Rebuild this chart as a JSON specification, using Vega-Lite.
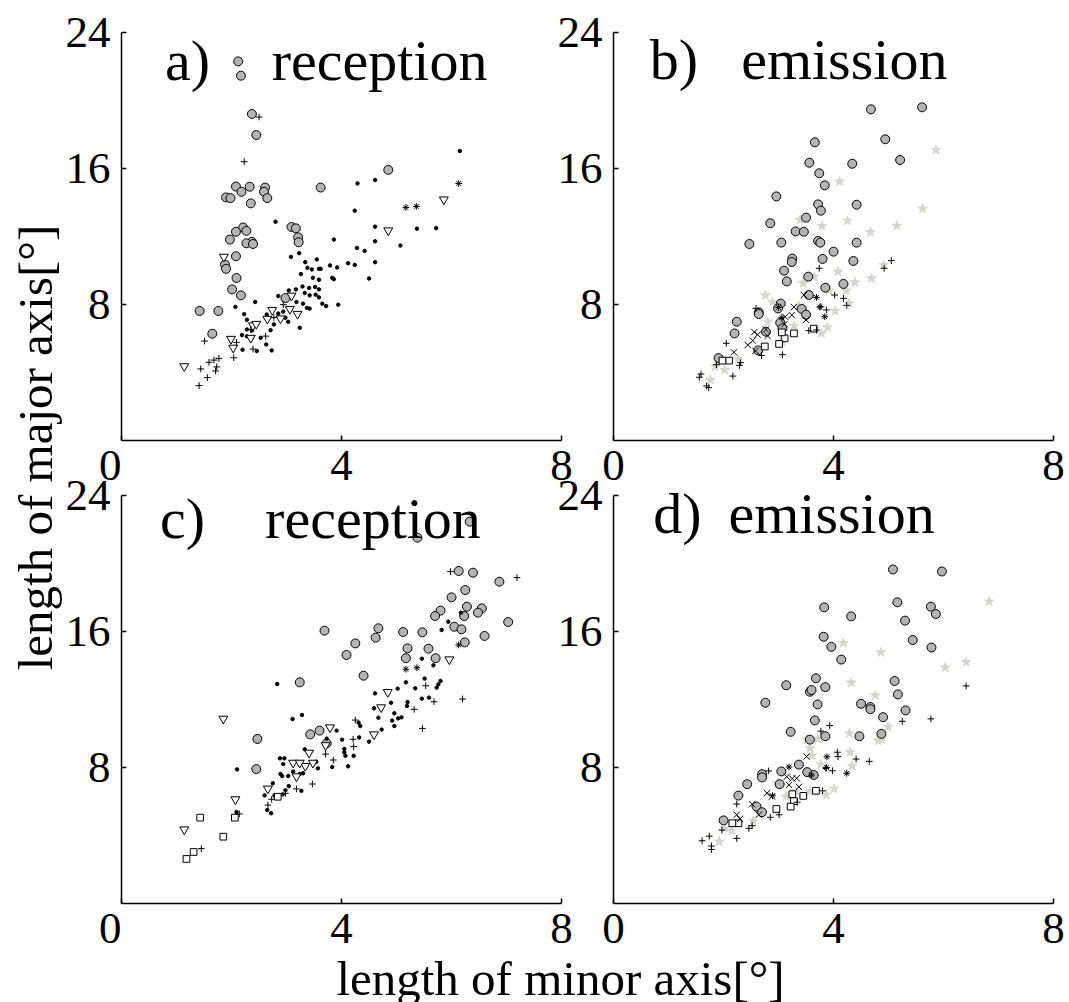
{
"$schema": "https://vega.github.io/schema/vega-lite/v6.json",
"background": "white",
"padding": {"left": 12, "top": 10, "right": 0, "bottom": 0},
"config": {
 "view": {"stroke": null},
 "font": "Liberation Serif",
 "axis": {"grid": false, "domainColor": "black", "domainWidth": 1.5, "tickColor": "black", "tickWidth": 1.5, "tickSize": -5, "labelFont": "Liberation Serif", "labelFontSize": 45, "labelColor": "black", "labelFlush": false, "labelOverlap": false, "titleFont": "Liberation Serif", "titleFontSize": 49, "titleFontWeight": "normal", "titleColor": "black"}
},
"datasets": {"pts": [
{"p":"a","t":"c","x":2.13,"y":22.27},{"p":"a","t":"c","x":2.18,"y":21.43},{"p":"a","t":"c","x":2.38,"y":19.18},{"p":"a","t":"c","x":2.46,"y":17.94},{"p":"a","t":"c","x":4.86,"y":15.89},{"p":"a","t":"c","x":3.63,"y":14.85},{"p":"a","t":"c","x":2.09,"y":14.91},{"p":"a","t":"c","x":2.34,"y":14.9},{"p":"a","t":"c","x":2.62,"y":14.85},{"p":"a","t":"c","x":2.19,"y":14.6},{"p":"a","t":"c","x":2.6,"y":14.6},{"p":"a","t":"c","x":1.91,"y":14.27},{"p":"a","t":"c","x":1.99,"y":14.23},{"p":"a","t":"c","x":2.66,"y":14.23},{"p":"a","t":"c","x":2.36,"y":13.92},{"p":"a","t":"c","x":3.1,"y":12.53},{"p":"a","t":"c","x":3.18,"y":12.45},{"p":"a","t":"c","x":2.22,"y":12.5},{"p":"a","t":"c","x":2.09,"y":12.25},{"p":"a","t":"c","x":2.28,"y":12.3},{"p":"a","t":"c","x":3.22,"y":11.92},{"p":"a","t":"c","x":1.98,"y":11.79},{"p":"a","t":"c","x":2.38,"y":11.66},{"p":"a","t":"c","x":2.28,"y":11.57},{"p":"a","t":"c","x":2.4,"y":11.53},{"p":"a","t":"c","x":3.23,"y":11.63},{"p":"a","t":"c","x":2.09,"y":10.81},{"p":"a","t":"c","x":1.89,"y":10.32},{"p":"a","t":"c","x":1.91,"y":10.07},{"p":"a","t":"c","x":2.1,"y":9.53},{"p":"a","t":"c","x":2.02,"y":8.86},{"p":"a","t":"c","x":2.18,"y":8.51},{"p":"a","t":"c","x":1.43,"y":7.59},{"p":"a","t":"c","x":1.77,"y":7.59},{"p":"a","t":"c","x":1.66,"y":6.25},{"p":"a","t":"c","x":2.99,"y":8.35},
{"p":"a","t":"d","x":6.16,"y":17.0},{"p":"a","t":"d","x":4.62,"y":15.3},{"p":"a","t":"d","x":4.3,"y":15.09},{"p":"a","t":"d","x":4.25,"y":13.49},{"p":"a","t":"d","x":2.81,"y":12.84},{"p":"a","t":"d","x":4.62,"y":12.55},{"p":"a","t":"d","x":5.38,"y":12.43},{"p":"a","t":"d","x":5.73,"y":12.46},{"p":"a","t":"d","x":3.87,"y":11.79},{"p":"a","t":"d","x":4.62,"y":11.69},{"p":"a","t":"d","x":5.08,"y":11.44},{"p":"a","t":"d","x":4.29,"y":11.3},{"p":"a","t":"d","x":4.43,"y":11.12},{"p":"a","t":"d","x":3.09,"y":10.77},{"p":"a","t":"d","x":3.24,"y":10.99},{"p":"a","t":"d","x":4.62,"y":10.46},{"p":"a","t":"d","x":4.13,"y":10.4},{"p":"a","t":"d","x":4.25,"y":10.3},{"p":"a","t":"d","x":3.8,"y":10.27},{"p":"a","t":"d","x":3.93,"y":10.15},{"p":"a","t":"d","x":3.35,"y":10.46},{"p":"a","t":"d","x":3.56,"y":10.62},{"p":"a","t":"d","x":3.39,"y":10.13},{"p":"a","t":"d","x":3.47,"y":10.03},{"p":"a","t":"d","x":3.6,"y":10.07},{"p":"a","t":"d","x":3.63,"y":10.07},{"p":"a","t":"d","x":3.27,"y":9.76},{"p":"a","t":"d","x":3.49,"y":9.54},{"p":"a","t":"d","x":3.6,"y":9.43},{"p":"a","t":"d","x":3.84,"y":9.54},{"p":"a","t":"d","x":3.87,"y":9.46},{"p":"a","t":"d","x":4.51,"y":9.5},{"p":"a","t":"d","x":3.05,"y":8.8},{"p":"a","t":"d","x":3.18,"y":8.86},{"p":"a","t":"d","x":3.3,"y":9.03},{"p":"a","t":"d","x":3.42,"y":8.94},{"p":"a","t":"d","x":3.53,"y":9.0},{"p":"a","t":"d","x":3.6,"y":8.86},{"p":"a","t":"d","x":3.34,"y":8.65},{"p":"a","t":"d","x":3.43,"y":8.51},{"p":"a","t":"d","x":3.54,"y":8.55},{"p":"a","t":"d","x":3.6,"y":8.39},{"p":"a","t":"d","x":2.86,"y":8.47},{"p":"a","t":"d","x":2.44,"y":8.12},{"p":"a","t":"d","x":3.19,"y":8.12},{"p":"a","t":"d","x":3.31,"y":8.02},{"p":"a","t":"d","x":3.38,"y":7.77},{"p":"a","t":"d","x":3.43,"y":7.73},{"p":"a","t":"d","x":3.66,"y":8.02},{"p":"a","t":"d","x":3.73,"y":7.88},{"p":"a","t":"d","x":3.95,"y":7.96},{"p":"a","t":"d","x":2.08,"y":7.83},{"p":"a","t":"d","x":2.24,"y":7.4},{"p":"a","t":"d","x":2.29,"y":7.07},{"p":"a","t":"d","x":2.65,"y":7.38},{"p":"a","t":"d","x":2.86,"y":7.44},{"p":"a","t":"d","x":2.95,"y":7.55},{"p":"a","t":"d","x":2.99,"y":7.19},{"p":"a","t":"d","x":3.04,"y":6.95},{"p":"a","t":"d","x":3.25,"y":6.6},{"p":"a","t":"d","x":2.78,"y":6.8},{"p":"a","t":"d","x":2.72,"y":6.46},{"p":"a","t":"d","x":2.29,"y":6.5},{"p":"a","t":"d","x":2.38,"y":6.44},{"p":"a","t":"d","x":2.2,"y":6.17},{"p":"a","t":"d","x":2.29,"y":6.1},{"p":"a","t":"d","x":2.54,"y":6.01},{"p":"a","t":"d","x":2.47,"y":5.23},{"p":"a","t":"d","x":2.74,"y":5.27},{"p":"a","t":"d","x":2.21,"y":5.31},{"p":"a","t":"d","x":2.64,"y":5.62},
{"p":"a","t":"v","x":1.15,"y":4.26},{"p":"a","t":"v","x":1.87,"y":10.7},{"p":"a","t":"v","x":2.0,"y":5.87},{"p":"a","t":"v","x":2.04,"y":5.35},{"p":"a","t":"v","x":2.36,"y":5.93},{"p":"a","t":"v","x":2.4,"y":6.66},{"p":"a","t":"v","x":2.46,"y":6.75},{"p":"a","t":"v","x":2.66,"y":7.05},{"p":"a","t":"v","x":2.75,"y":7.57},{"p":"a","t":"v","x":2.9,"y":7.07},{"p":"a","t":"v","x":3.07,"y":7.63},{"p":"a","t":"v","x":3.21,"y":7.34},{"p":"a","t":"v","x":3.1,"y":8.41},{"p":"a","t":"v","x":4.86,"y":12.25},{"p":"a","t":"v","x":5.87,"y":14.07},
{"p":"a","t":"p","x":2.51,"y":19.0},{"p":"a","t":"p","x":2.24,"y":16.37},{"p":"a","t":"p","x":1.52,"y":5.82},{"p":"a","t":"p","x":1.45,"y":4.18},{"p":"a","t":"p","x":1.57,"y":3.67},{"p":"a","t":"p","x":1.42,"y":3.2},{"p":"a","t":"p","x":1.6,"y":4.57},{"p":"a","t":"p","x":1.69,"y":4.7},{"p":"a","t":"p","x":1.78,"y":4.8},{"p":"a","t":"p","x":1.72,"y":4.06},{"p":"a","t":"p","x":1.74,"y":4.3},{"p":"a","t":"p","x":2.05,"y":4.84},{"p":"a","t":"p","x":2.1,"y":5.74},{"p":"a","t":"p","x":2.4,"y":5.35},{"p":"a","t":"p","x":2.63,"y":6.11},{"p":"a","t":"p","x":2.78,"y":7.2},{"p":"a","t":"p","x":2.95,"y":7.96},{"p":"a","t":"p","x":2.36,"y":6.5},
{"p":"a","t":"a","x":5.18,"y":13.68},{"p":"a","t":"a","x":5.37,"y":13.74},{"p":"a","t":"a","x":6.14,"y":15.09},
{"p":"b","t":"st","x":5.87,"y":17.06},{"p":"b","t":"st","x":4.12,"y":15.2},{"p":"b","t":"st","x":5.63,"y":13.61},{"p":"b","t":"st","x":4.26,"y":12.9},{"p":"b","t":"st","x":3.4,"y":12.94},{"p":"b","t":"st","x":3.8,"y":12.59},{"p":"b","t":"st","x":4.68,"y":12.22},{"p":"b","t":"st","x":5.16,"y":12.6},{"p":"b","t":"st","x":4.92,"y":10.29},{"p":"b","t":"st","x":4.09,"y":9.9},{"p":"b","t":"st","x":3.66,"y":9.61},{"p":"b","t":"st","x":4.7,"y":9.51},{"p":"b","t":"st","x":4.4,"y":9.27},{"p":"b","t":"st","x":3.46,"y":9.22},{"p":"b","t":"st","x":2.77,"y":8.51},{"p":"b","t":"st","x":2.9,"y":8.12},{"p":"b","t":"st","x":3.93,"y":8.78},{"p":"b","t":"st","x":4.24,"y":8.78},{"p":"b","t":"st","x":4.29,"y":8.04},{"p":"b","t":"st","x":4.04,"y":7.59},{"p":"b","t":"st","x":3.38,"y":7.9},{"p":"b","t":"st","x":3.9,"y":6.63},{"p":"b","t":"st","x":3.79,"y":6.27},{"p":"b","t":"st","x":2.81,"y":6.96},{"p":"b","t":"st","x":3.29,"y":6.71},{"p":"b","t":"st","x":3.08,"y":5.78},{"p":"b","t":"st","x":2.28,"y":4.76},{"p":"b","t":"st","x":2.03,"y":4.12},{"p":"b","t":"st","x":1.86,"y":4.31},{"p":"b","t":"st","x":1.77,"y":3.53},
{"p":"b","t":"c","x":4.69,"y":19.45},{"p":"b","t":"c","x":5.62,"y":19.57},{"p":"b","t":"c","x":4.95,"y":17.69},{"p":"b","t":"c","x":5.22,"y":16.47},{"p":"b","t":"c","x":3.67,"y":17.51},{"p":"b","t":"c","x":3.57,"y":16.31},{"p":"b","t":"c","x":4.35,"y":16.25},{"p":"b","t":"c","x":3.75,"y":15.69},{"p":"b","t":"c","x":3.85,"y":14.98},{"p":"b","t":"c","x":2.97,"y":14.33},{"p":"b","t":"c","x":3.73,"y":13.86},{"p":"b","t":"c","x":3.78,"y":13.49},{"p":"b","t":"c","x":4.43,"y":13.84},{"p":"b","t":"c","x":3.51,"y":13.08},{"p":"b","t":"c","x":2.86,"y":12.75},{"p":"b","t":"c","x":3.32,"y":12.27},{"p":"b","t":"c","x":3.47,"y":12.25},{"p":"b","t":"c","x":2.48,"y":11.53},{"p":"b","t":"c","x":3.06,"y":11.61},{"p":"b","t":"c","x":3.73,"y":11.71},{"p":"b","t":"c","x":3.77,"y":11.61},{"p":"b","t":"c","x":4.43,"y":11.61},{"p":"b","t":"c","x":4.01,"y":11.08},{"p":"b","t":"c","x":3.26,"y":10.67},{"p":"b","t":"c","x":3.25,"y":10.47},{"p":"b","t":"c","x":3.81,"y":10.65},{"p":"b","t":"c","x":4.37,"y":10.53},{"p":"b","t":"c","x":3.11,"y":9.96},{"p":"b","t":"c","x":3.16,"y":9.33},{"p":"b","t":"c","x":3.55,"y":9.61},{"p":"b","t":"c","x":4.19,"y":9.18},{"p":"b","t":"c","x":3.86,"y":8.96},{"p":"b","t":"c","x":3.56,"y":8.53},{"p":"b","t":"c","x":3.05,"y":8.02},{"p":"b","t":"c","x":3.0,"y":7.74},{"p":"b","t":"c","x":2.65,"y":7.51},{"p":"b","t":"c","x":2.65,"y":7.41},{"p":"b","t":"c","x":3.43,"y":7.71},{"p":"b","t":"c","x":3.51,"y":7.37},{"p":"b","t":"c","x":2.25,"y":6.96},{"p":"b","t":"c","x":3.04,"y":6.9},{"p":"b","t":"c","x":2.21,"y":6.27},{"p":"b","t":"c","x":2.64,"y":5.27},{"p":"b","t":"c","x":1.92,"y":4.82},{"p":"b","t":"c","x":2.78,"y":6.37},{"p":"b","t":"c","x":3.08,"y":6.57},
{"p":"b","t":"s","x":3.65,"y":6.55},{"p":"b","t":"s","x":3.29,"y":6.27},{"p":"b","t":"s","x":3.12,"y":5.98},{"p":"b","t":"s","x":3.07,"y":6.33},{"p":"b","t":"s","x":3.02,"y":5.65},{"p":"b","t":"s","x":2.76,"y":5.5},{"p":"b","t":"s","x":2.11,"y":4.67},{"p":"b","t":"s","x":1.99,"y":4.67},
{"p":"b","t":"x","x":3.47,"y":8.53},{"p":"b","t":"x","x":3.25,"y":7.35},{"p":"b","t":"x","x":3.51,"y":7.06},{"p":"b","t":"x","x":3.13,"y":7.25},{"p":"b","t":"x","x":3.12,"y":6.82},{"p":"b","t":"x","x":2.57,"y":6.35},{"p":"b","t":"x","x":2.78,"y":6.5},{"p":"b","t":"x","x":2.81,"y":6.12},{"p":"b","t":"x","x":2.54,"y":5.85},{"p":"b","t":"x","x":2.45,"y":5.59},{"p":"b","t":"x","x":2.2,"y":5.16},{"p":"b","t":"x","x":2.59,"y":5.24},{"p":"b","t":"x","x":2.63,"y":6.2},{"p":"b","t":"x","x":3.29,"y":7.82},
{"p":"b","t":"p","x":5.06,"y":10.55},{"p":"b","t":"p","x":4.93,"y":10.1},{"p":"b","t":"p","x":3.75,"y":10.1},{"p":"b","t":"p","x":4.03,"y":8.53},{"p":"b","t":"p","x":4.19,"y":8.33},{"p":"b","t":"p","x":4.25,"y":7.92},{"p":"b","t":"p","x":3.78,"y":7.84},{"p":"b","t":"p","x":3.88,"y":7.65},{"p":"b","t":"p","x":3.7,"y":6.47},{"p":"b","t":"p","x":3.56,"y":6.43},{"p":"b","t":"p","x":2.6,"y":7.74},{"p":"b","t":"p","x":2.06,"y":5.69},{"p":"b","t":"p","x":2.18,"y":3.76},{"p":"b","t":"p","x":1.57,"y":3.69},{"p":"b","t":"p","x":1.6,"y":3.88},{"p":"b","t":"p","x":1.7,"y":3.18},{"p":"b","t":"p","x":1.74,"y":3.08},{"p":"b","t":"p","x":2.32,"y":4.55},{"p":"b","t":"p","x":2.3,"y":4.39},{"p":"b","t":"p","x":2.7,"y":4.97},{"p":"b","t":"p","x":1.88,"y":4.43},{"p":"b","t":"p","x":3.08,"y":5.02},
{"p":"b","t":"a","x":3.7,"y":8.39},{"p":"b","t":"a","x":3.85,"y":7.25},{"p":"b","t":"a","x":3.76,"y":7.82},{"p":"b","t":"a","x":3.07,"y":7.2},{"p":"b","t":"a","x":3.01,"y":7.8},
{"p":"c","t":"c","x":6.34,"y":22.43},{"p":"c","t":"c","x":5.39,"y":21.49},{"p":"c","t":"c","x":6.14,"y":19.53},{"p":"c","t":"c","x":6.4,"y":19.43},{"p":"c","t":"c","x":6.88,"y":18.9},{"p":"c","t":"c","x":6.26,"y":18.41},{"p":"c","t":"c","x":6.01,"y":17.98},{"p":"c","t":"c","x":6.29,"y":17.43},{"p":"c","t":"c","x":6.56,"y":17.33},{"p":"c","t":"c","x":5.81,"y":17.2},{"p":"c","t":"c","x":6.49,"y":17.08},{"p":"c","t":"c","x":5.71,"y":16.88},{"p":"c","t":"c","x":6.24,"y":16.88},{"p":"c","t":"c","x":7.04,"y":16.53},{"p":"c","t":"c","x":6.06,"y":16.25},{"p":"c","t":"c","x":6.19,"y":16.1},{"p":"c","t":"c","x":3.7,"y":16.02},{"p":"c","t":"c","x":4.68,"y":16.16},{"p":"c","t":"c","x":4.63,"y":15.61},{"p":"c","t":"c","x":5.13,"y":15.94},{"p":"c","t":"c","x":5.48,"y":15.92},{"p":"c","t":"c","x":6.61,"y":15.71},{"p":"c","t":"c","x":6.25,"y":15.33},{"p":"c","t":"c","x":4.26,"y":15.27},{"p":"c","t":"c","x":4.1,"y":14.59},{"p":"c","t":"c","x":5.21,"y":14.98},{"p":"c","t":"c","x":5.59,"y":14.96},{"p":"c","t":"c","x":5.18,"y":14.4},{"p":"c","t":"c","x":5.72,"y":14.4},{"p":"c","t":"c","x":4.41,"y":13.37},{"p":"c","t":"c","x":3.25,"y":12.98},{"p":"c","t":"c","x":2.48,"y":9.65},{"p":"c","t":"c","x":2.46,"y":7.88},{"p":"c","t":"c","x":3.44,"y":9.92},{"p":"c","t":"c","x":3.61,"y":10.14},{"p":"c","t":"c","x":3.74,"y":9.39},
{"p":"c","t":"d","x":2.84,"y":12.88},{"p":"c","t":"d","x":2.11,"y":7.86},{"p":"c","t":"d","x":3.12,"y":10.82},{"p":"c","t":"d","x":3.29,"y":11.06},{"p":"c","t":"d","x":3.34,"y":9.04},{"p":"c","t":"d","x":2.89,"y":8.51},{"p":"c","t":"d","x":2.97,"y":8.51},{"p":"c","t":"d","x":2.95,"y":8.17},{"p":"c","t":"d","x":2.9,"y":7.59},{"p":"c","t":"d","x":2.93,"y":7.47},{"p":"c","t":"d","x":3.04,"y":7.47},{"p":"c","t":"d","x":3.13,"y":7.73},{"p":"c","t":"d","x":3.25,"y":7.59},{"p":"c","t":"d","x":3.31,"y":7.63},{"p":"c","t":"d","x":2.76,"y":7.04},{"p":"c","t":"d","x":3.05,"y":6.88},{"p":"c","t":"d","x":3.28,"y":6.6},{"p":"c","t":"d","x":2.99,"y":6.63},{"p":"c","t":"d","x":2.94,"y":6.39},{"p":"c","t":"d","x":2.61,"y":6.33},{"p":"c","t":"d","x":2.79,"y":6.33},{"p":"c","t":"d","x":2.66,"y":5.47},{"p":"c","t":"d","x":2.73,"y":5.28},{"p":"c","t":"d","x":2.1,"y":5.35},{"p":"c","t":"d","x":3.58,"y":7.92},{"p":"c","t":"d","x":3.55,"y":8.31},{"p":"c","t":"d","x":3.74,"y":9.67},{"p":"c","t":"d","x":3.84,"y":8.0},{"p":"c","t":"d","x":3.92,"y":10.14},{"p":"c","t":"d","x":4.02,"y":9.61},{"p":"c","t":"d","x":4.06,"y":8.86},{"p":"c","t":"d","x":4.08,"y":8.66},{"p":"c","t":"d","x":4.06,"y":9.06},{"p":"c","t":"d","x":4.13,"y":8.04},{"p":"c","t":"d","x":4.23,"y":8.66},{"p":"c","t":"d","x":4.32,"y":10.61},{"p":"c","t":"d","x":4.35,"y":10.41},{"p":"c","t":"d","x":4.33,"y":9.74},{"p":"c","t":"d","x":4.51,"y":9.49},{"p":"c","t":"d","x":4.62,"y":12.33},{"p":"c","t":"d","x":4.6,"y":11.45},{"p":"c","t":"d","x":4.68,"y":10.9},{"p":"c","t":"d","x":4.74,"y":10.2},{"p":"c","t":"d","x":4.91,"y":11.78},{"p":"c","t":"d","x":4.97,"y":11.16},{"p":"c","t":"d","x":4.93,"y":10.73},{"p":"c","t":"d","x":4.97,"y":10.41},{"p":"c","t":"d","x":5.04,"y":10.86},{"p":"c","t":"d","x":5.1,"y":10.92},{"p":"c","t":"d","x":5.03,"y":12.61},{"p":"c","t":"d","x":5.18,"y":12.98},{"p":"c","t":"d","x":5.21,"y":11.82},{"p":"c","t":"d","x":5.2,"y":11.59},{"p":"c","t":"d","x":5.35,"y":12.63},{"p":"c","t":"d","x":5.47,"y":12.02},{"p":"c","t":"d","x":5.6,"y":12.08},{"p":"c","t":"d","x":5.47,"y":14.37},{"p":"c","t":"d","x":5.68,"y":13.98},{"p":"c","t":"d","x":5.74,"y":12.67},{"p":"c","t":"d","x":5.77,"y":12.86},{"p":"c","t":"d","x":5.81,"y":13.06},{"p":"c","t":"d","x":5.52,"y":13.2},{"p":"c","t":"d","x":5.83,"y":16.06},{"p":"c","t":"d","x":5.95,"y":16.55},{"p":"c","t":"d","x":6.18,"y":17.08},
{"p":"c","t":"s","x":1.19,"y":2.59},{"p":"c","t":"s","x":1.32,"y":3.0},{"p":"c","t":"s","x":1.44,"y":5.02},{"p":"c","t":"s","x":1.86,"y":3.9},{"p":"c","t":"s","x":2.07,"y":5.02},{"p":"c","t":"s","x":2.85,"y":6.25},
{"p":"c","t":"v","x":1.86,"y":10.76},{"p":"c","t":"v","x":1.15,"y":4.25},{"p":"c","t":"v","x":2.08,"y":6.02},{"p":"c","t":"v","x":2.67,"y":6.65},{"p":"c","t":"v","x":5.97,"y":14.25},{"p":"c","t":"v","x":4.85,"y":12.33},{"p":"c","t":"v","x":4.73,"y":11.43},{"p":"c","t":"v","x":4.6,"y":9.84},{"p":"c","t":"v","x":3.8,"y":10.25},{"p":"c","t":"v","x":3.72,"y":9.2},{"p":"c","t":"v","x":3.42,"y":8.76},{"p":"c","t":"v","x":3.49,"y":8.17},{"p":"c","t":"v","x":3.35,"y":7.98},{"p":"c","t":"v","x":3.13,"y":8.17},{"p":"c","t":"v","x":3.25,"y":8.17},{"p":"c","t":"v","x":3.19,"y":7.37},
{"p":"c","t":"p","x":5.99,"y":19.49},{"p":"c","t":"p","x":7.2,"y":19.14},{"p":"c","t":"p","x":6.21,"y":12.0},{"p":"c","t":"p","x":5.54,"y":12.78},{"p":"c","t":"p","x":5.69,"y":11.84},{"p":"c","t":"p","x":5.33,"y":11.39},{"p":"c","t":"p","x":5.48,"y":10.27},{"p":"c","t":"p","x":4.26,"y":10.76},{"p":"c","t":"p","x":4.22,"y":9.63},{"p":"c","t":"p","x":4.23,"y":9.2},{"p":"c","t":"p","x":3.86,"y":8.41},{"p":"c","t":"p","x":3.72,"y":8.76},{"p":"c","t":"p","x":3.48,"y":7.0},{"p":"c","t":"p","x":3.19,"y":6.71},{"p":"c","t":"p","x":2.99,"y":6.45},{"p":"c","t":"p","x":2.74,"y":6.1},{"p":"c","t":"p","x":2.67,"y":5.76},{"p":"c","t":"p","x":2.15,"y":5.24},{"p":"c","t":"p","x":1.46,"y":3.2},
{"p":"c","t":"a","x":5.18,"y":13.75},{"p":"c","t":"a","x":5.38,"y":13.84},{"p":"c","t":"a","x":6.14,"y":15.18},
{"p":"d","t":"st","x":6.84,"y":17.73},{"p":"d","t":"st","x":4.19,"y":15.29},{"p":"d","t":"st","x":4.87,"y":14.74},{"p":"d","t":"st","x":6.04,"y":13.85},{"p":"d","t":"st","x":6.42,"y":14.18},{"p":"d","t":"st","x":4.33,"y":12.96},{"p":"d","t":"st","x":3.84,"y":12.66},{"p":"d","t":"st","x":4.77,"y":12.21},{"p":"d","t":"st","x":5.0,"y":10.36},{"p":"d","t":"st","x":4.3,"y":9.97},{"p":"d","t":"st","x":4.82,"y":9.55},{"p":"d","t":"st","x":4.88,"y":9.61},{"p":"d","t":"st","x":3.53,"y":9.61},{"p":"d","t":"st","x":3.72,"y":9.67},{"p":"d","t":"st","x":3.58,"y":9.1},{"p":"d","t":"st","x":4.31,"y":8.87},{"p":"d","t":"st","x":3.61,"y":8.66},{"p":"d","t":"st","x":3.78,"y":8.14},{"p":"d","t":"st","x":4.35,"y":8.06},{"p":"d","t":"st","x":4.02,"y":6.72},{"p":"d","t":"st","x":3.88,"y":6.36},{"p":"d","t":"st","x":2.99,"y":7.04},{"p":"d","t":"st","x":3.58,"y":6.56},{"p":"d","t":"st","x":3.33,"y":6.56},{"p":"d","t":"st","x":2.55,"y":4.83},{"p":"d","t":"st","x":2.16,"y":4.24},{"p":"d","t":"st","x":2.04,"y":4.39},{"p":"d","t":"st","x":1.93,"y":3.61},{"p":"d","t":"st","x":3.15,"y":6.26},
{"p":"d","t":"c","x":5.09,"y":19.62},{"p":"d","t":"c","x":5.98,"y":19.5},{"p":"d","t":"c","x":5.17,"y":17.69},{"p":"d","t":"c","x":5.78,"y":17.43},{"p":"d","t":"c","x":5.87,"y":17.0},{"p":"d","t":"c","x":5.31,"y":16.61},{"p":"d","t":"c","x":5.45,"y":15.47},{"p":"d","t":"c","x":5.79,"y":15.03},{"p":"d","t":"c","x":3.84,"y":17.39},{"p":"d","t":"c","x":4.33,"y":16.86},{"p":"d","t":"c","x":3.83,"y":15.66},{"p":"d","t":"c","x":3.97,"y":15.07},{"p":"d","t":"c","x":4.15,"y":14.32},{"p":"d","t":"c","x":5.12,"y":13.06},{"p":"d","t":"c","x":5.18,"y":12.27},{"p":"d","t":"c","x":5.32,"y":11.33},{"p":"d","t":"c","x":4.91,"y":10.93},{"p":"d","t":"c","x":4.88,"y":9.95},{"p":"d","t":"c","x":3.69,"y":13.22},{"p":"d","t":"c","x":3.15,"y":12.81},{"p":"d","t":"c","x":3.58,"y":12.43},{"p":"d","t":"c","x":3.61,"y":12.53},{"p":"d","t":"c","x":3.86,"y":12.7},{"p":"d","t":"c","x":2.77,"y":11.78},{"p":"d","t":"c","x":3.72,"y":11.68},{"p":"d","t":"c","x":4.51,"y":11.72},{"p":"d","t":"c","x":4.68,"y":11.53},{"p":"d","t":"c","x":4.68,"y":11.4},{"p":"d","t":"c","x":3.67,"y":10.74},{"p":"d","t":"c","x":3.23,"y":10.07},{"p":"d","t":"c","x":3.58,"y":9.61},{"p":"d","t":"c","x":3.86,"y":9.81},{"p":"d","t":"c","x":4.48,"y":9.81},{"p":"d","t":"c","x":3.38,"y":8.14},{"p":"d","t":"c","x":3.06,"y":7.74},{"p":"d","t":"c","x":2.71,"y":7.58},{"p":"d","t":"c","x":2.71,"y":7.39},{"p":"d","t":"c","x":3.53,"y":7.7},{"p":"d","t":"c","x":3.65,"y":7.53},{"p":"d","t":"c","x":3.03,"y":6.99},{"p":"d","t":"c","x":2.44,"y":6.99},{"p":"d","t":"c","x":2.28,"y":6.32},{"p":"d","t":"c","x":2.61,"y":5.67},{"p":"d","t":"c","x":2.71,"y":5.34},{"p":"d","t":"c","x":2.01,"y":4.86},
{"p":"d","t":"s","x":3.69,"y":6.6},{"p":"d","t":"s","x":3.46,"y":6.3},{"p":"d","t":"s","x":3.26,"y":6.4},{"p":"d","t":"s","x":3.29,"y":5.99},{"p":"d","t":"s","x":3.23,"y":5.67},{"p":"d","t":"s","x":2.97,"y":5.53},{"p":"d","t":"s","x":2.28,"y":4.69},{"p":"d","t":"s","x":2.17,"y":4.69},
{"p":"d","t":"x","x":3.52,"y":8.62},{"p":"d","t":"x","x":3.26,"y":7.32},{"p":"d","t":"x","x":3.34,"y":7.34},{"p":"d","t":"x","x":3.2,"y":6.95},{"p":"d","t":"x","x":3.38,"y":6.83},{"p":"d","t":"x","x":2.8,"y":6.46},{"p":"d","t":"x","x":2.89,"y":6.26},{"p":"d","t":"x","x":2.53,"y":5.81},{"p":"d","t":"x","x":2.65,"y":5.19},{"p":"d","t":"x","x":2.25,"y":5.19},{"p":"d","t":"x","x":2.31,"y":4.95},{"p":"d","t":"x","x":3.16,"y":7.43},
{"p":"d","t":"p","x":6.42,"y":12.77},{"p":"d","t":"p","x":5.78,"y":10.83},{"p":"d","t":"p","x":5.26,"y":10.69},{"p":"d","t":"p","x":4.66,"y":8.33},{"p":"d","t":"p","x":4.42,"y":8.47},{"p":"d","t":"p","x":4.08,"y":8.87},{"p":"d","t":"p","x":4.09,"y":8.61},{"p":"d","t":"p","x":3.94,"y":10.44},{"p":"d","t":"p","x":3.78,"y":10.11},{"p":"d","t":"p","x":3.87,"y":7.92},{"p":"d","t":"p","x":3.99,"y":7.78},{"p":"d","t":"p","x":3.81,"y":6.6},{"p":"d","t":"p","x":3.35,"y":5.93},{"p":"d","t":"p","x":3.02,"y":5.19},{"p":"d","t":"p","x":2.86,"y":5.04},{"p":"d","t":"p","x":2.53,"y":4.55},{"p":"d","t":"p","x":2.47,"y":4.39},{"p":"d","t":"p","x":2.25,"y":5.82},{"p":"d","t":"p","x":2.25,"y":3.8},{"p":"d","t":"p","x":1.98,"y":4.29},{"p":"d","t":"p","x":1.62,"y":3.66},{"p":"d","t":"p","x":1.75,"y":3.93},{"p":"d","t":"p","x":1.79,"y":3.35},{"p":"d","t":"p","x":1.79,"y":3.15},{"p":"d","t":"p","x":2.83,"y":7.77},
{"p":"d","t":"a","x":3.89,"y":8.6},{"p":"d","t":"a","x":3.88,"y":7.97},{"p":"d","t":"a","x":4.25,"y":7.63},{"p":"d","t":"a","x":3.61,"y":7.53},{"p":"d","t":"a","x":3.2,"y":8.0},{"p":"d","t":"a","x":2.9,"y":6.31}
]},
"columns": 2,
"spacing": {"row": 55, "column": 52},
"bounds": "flush",
"concat": [
{"width": 440, "height": 408,
 "layer": [
  {"data": {"name": "pts"}, "transform": [{"filter": "datum.p === 'a'"}],
   "mark": {"type": "point", "opacity": 1, "strokeWidth": 1},
   "encoding": {
    "x": {"field": "x", "type": "quantitative", "scale": {"domain": [0, 8], "nice": false, "zero": false}, "axis": {"values": [0, 4, 8], "title": null, "labelPadding": 8, "labelAngle": 0, "labelAlign": {"condition": {"test": "datum.value === 0", "value": "right"}, "value": "center"}}},
    "y": {"field": "y", "type": "quantitative", "scale": {"domain": [0, 24], "nice": false}, "axis": {"values": [8, 16, 24], "title": "length of major axis[°]", "labelPadding": 16, "titleY": 415}},
    "shape": {"field": "t", "type": "nominal", "legend": null, "scale": {"domain": ["st","c","d","s","v","x","p","a"], "range": ["M0,-1L0.225,-0.309L0.951,-0.309L0.363,0.118L0.588,0.809L0,0.382L-0.588,0.809L-0.363,0.118L-0.951,-0.309L-0.225,-0.309Z","circle","circle","square","triangle-down","M-1,-1L1,1M-1,1L1,-1","M-1,0L1,0M0,-1L0,1","M-1,0L1,0M0,-1L0,1M-0.71,-0.71L0.71,0.71M-0.71,0.71L0.71,-0.71"]}},
    "fill": {"field": "t", "type": "nominal", "legend": null, "scale": {"domain": ["st","c","d","s","v","x","p","a"], "range": ["#d6d6ce","#b4b4b4","black","white","white","transparent","transparent","transparent"]}},
    "stroke": {"field": "t", "type": "nominal", "legend": null, "scale": {"domain": ["st","c","d","s","v","x","p","a"], "range": ["#d6d6ce","black","black","black","black","black","black","black"]}},
    "size": {"field": "t", "type": "nominal", "legend": null, "scale": {"type": "ordinal", "domain": ["st","c","d","s","v","x","p","a"], "range": [100, 80, 12, 45, 80, 40, 45, 45]}}
   }},
  {"data": {"values": [{}]}, "mark": {"type": "text", "align": "left", "baseline": "alphabetic", "fontSize": 58, "font": "Liberation Serif", "color": "black"}, "encoding": {"x": {"datum": 0.8}, "y": {"datum": 21.2}, "text": {"value": "a)"}}},
  {"data": {"values": [{}]}, "mark": {"type": "text", "align": "left", "baseline": "alphabetic", "fontSize": 58, "font": "Liberation Serif", "color": "black"}, "encoding": {"x": {"datum": 2.74}, "y": {"datum": 21.2}, "text": {"value": "reception"}}}
 ]},
{"width": 440, "height": 408,
 "layer": [
  {"data": {"name": "pts"}, "transform": [{"filter": "datum.p === 'b'"}],
   "mark": {"type": "point", "opacity": 1, "strokeWidth": 1},
   "encoding": {
    "x": {"field": "x", "type": "quantitative", "scale": {"domain": [0, 8], "nice": false, "zero": false}, "axis": {"values": [0, 4, 8], "title": null, "labelPadding": 8, "labelAngle": 0}},
    "y": {"field": "y", "type": "quantitative", "scale": {"domain": [0, 24], "nice": false}, "axis": {"values": [8, 16, 24], "title": null, "labelPadding": 16}},
    "shape": {"field": "t", "type": "nominal", "legend": null, "scale": {"domain": ["st","c","d","s","v","x","p","a"], "range": ["M0,-1L0.225,-0.309L0.951,-0.309L0.363,0.118L0.588,0.809L0,0.382L-0.588,0.809L-0.363,0.118L-0.951,-0.309L-0.225,-0.309Z","circle","circle","square","triangle-down","M-1,-1L1,1M-1,1L1,-1","M-1,0L1,0M0,-1L0,1","M-1,0L1,0M0,-1L0,1M-0.71,-0.71L0.71,0.71M-0.71,0.71L0.71,-0.71"]}},
    "fill": {"field": "t", "type": "nominal", "legend": null, "scale": {"domain": ["st","c","d","s","v","x","p","a"], "range": ["#d6d6ce","#b4b4b4","black","white","white","transparent","transparent","transparent"]}},
    "stroke": {"field": "t", "type": "nominal", "legend": null, "scale": {"domain": ["st","c","d","s","v","x","p","a"], "range": ["#d6d6ce","black","black","black","black","black","black","black"]}},
    "size": {"field": "t", "type": "nominal", "legend": null, "scale": {"type": "ordinal", "domain": ["st","c","d","s","v","x","p","a"], "range": [100, 65, 12, 45, 80, 40, 45, 45]}}
   }},
  {"data": {"values": [{}]}, "mark": {"type": "text", "align": "left", "baseline": "alphabetic", "fontSize": 58, "font": "Liberation Serif", "color": "black"}, "encoding": {"x": {"datum": 0.67}, "y": {"datum": 21.24}, "text": {"value": "b)"}}},
  {"data": {"values": [{}]}, "mark": {"type": "text", "align": "left", "baseline": "alphabetic", "fontSize": 58, "font": "Liberation Serif", "color": "black"}, "encoding": {"x": {"datum": 2.33}, "y": {"datum": 21.24}, "text": {"value": "emission"}}}
 ]},
{"width": 440, "height": 408,
 "layer": [
  {"data": {"name": "pts"}, "transform": [{"filter": "datum.p === 'c'"}],
   "mark": {"type": "point", "opacity": 1, "strokeWidth": 1},
   "encoding": {
    "x": {"field": "x", "type": "quantitative", "scale": {"domain": [0, 8], "nice": false, "zero": false}, "axis": {"values": [0, 4, 8], "title": "length of minor axis[°]", "labelPadding": 8, "labelAngle": 0, "titleX": 439, "labelAlign": {"condition": {"test": "datum.value === 0", "value": "right"}, "value": "center"}}},
    "y": {"field": "y", "type": "quantitative", "scale": {"domain": [0, 24], "nice": false}, "axis": {"values": [8, 16, 24], "title": null, "labelPadding": 16}},
    "shape": {"field": "t", "type": "nominal", "legend": null, "scale": {"domain": ["st","c","d","s","v","x","p","a"], "range": ["M0,-1L0.225,-0.309L0.951,-0.309L0.363,0.118L0.588,0.809L0,0.382L-0.588,0.809L-0.363,0.118L-0.951,-0.309L-0.225,-0.309Z","circle","circle","square","triangle-down","M-1,-1L1,1M-1,1L1,-1","M-1,0L1,0M0,-1L0,1","M-1,0L1,0M0,-1L0,1M-0.71,-0.71L0.71,0.71M-0.71,0.71L0.71,-0.71"]}},
    "fill": {"field": "t", "type": "nominal", "legend": null, "scale": {"domain": ["st","c","d","s","v","x","p","a"], "range": ["#d6d6ce","#b4b4b4","black","white","white","transparent","transparent","transparent"]}},
    "stroke": {"field": "t", "type": "nominal", "legend": null, "scale": {"domain": ["st","c","d","s","v","x","p","a"], "range": ["#d6d6ce","black","black","black","black","black","black","black"]}},
    "size": {"field": "t", "type": "nominal", "legend": null, "scale": {"type": "ordinal", "domain": ["st","c","d","s","v","x","p","a"], "range": [100, 75, 12, 45, 80, 40, 45, 45]}}
   }},
  {"data": {"values": [{}]}, "mark": {"type": "text", "align": "left", "baseline": "alphabetic", "fontSize": 58, "font": "Liberation Serif", "color": "black"}, "encoding": {"x": {"datum": 0.71}, "y": {"datum": 21.5}, "text": {"value": "c)"}}},
  {"data": {"values": [{}]}, "mark": {"type": "text", "align": "left", "baseline": "alphabetic", "fontSize": 58, "font": "Liberation Serif", "color": "black"}, "encoding": {"x": {"datum": 2.62}, "y": {"datum": 21.5}, "text": {"value": "reception"}}}
 ]},
{"width": 440, "height": 408,
 "layer": [
  {"data": {"name": "pts"}, "transform": [{"filter": "datum.p === 'd'"}],
   "mark": {"type": "point", "opacity": 1, "strokeWidth": 1},
   "encoding": {
    "x": {"field": "x", "type": "quantitative", "scale": {"domain": [0, 8], "nice": false, "zero": false}, "axis": {"values": [0, 4, 8], "title": null, "labelPadding": 8, "labelAngle": 0}},
    "y": {"field": "y", "type": "quantitative", "scale": {"domain": [0, 24], "nice": false}, "axis": {"values": [8, 16, 24], "title": null, "labelPadding": 16}},
    "shape": {"field": "t", "type": "nominal", "legend": null, "scale": {"domain": ["st","c","d","s","v","x","p","a"], "range": ["M0,-1L0.225,-0.309L0.951,-0.309L0.363,0.118L0.588,0.809L0,0.382L-0.588,0.809L-0.363,0.118L-0.951,-0.309L-0.225,-0.309Z","circle","circle","square","triangle-down","M-1,-1L1,1M-1,1L1,-1","M-1,0L1,0M0,-1L0,1","M-1,0L1,0M0,-1L0,1M-0.71,-0.71L0.71,0.71M-0.71,0.71L0.71,-0.71"]}},
    "fill": {"field": "t", "type": "nominal", "legend": null, "scale": {"domain": ["st","c","d","s","v","x","p","a"], "range": ["#d6d6ce","#b4b4b4","black","white","white","transparent","transparent","transparent"]}},
    "stroke": {"field": "t", "type": "nominal", "legend": null, "scale": {"domain": ["st","c","d","s","v","x","p","a"], "range": ["#d6d6ce","black","black","black","black","black","black","black"]}},
    "size": {"field": "t", "type": "nominal", "legend": null, "scale": {"type": "ordinal", "domain": ["st","c","d","s","v","x","p","a"], "range": [100, 65, 12, 45, 80, 40, 45, 45]}}
   }},
  {"data": {"values": [{}]}, "mark": {"type": "text", "align": "left", "baseline": "alphabetic", "fontSize": 58, "font": "Liberation Serif", "color": "black"}, "encoding": {"x": {"datum": 0.73}, "y": {"datum": 21.75}, "text": {"value": "d)"}}},
  {"data": {"values": [{}]}, "mark": {"type": "text", "align": "left", "baseline": "alphabetic", "fontSize": 58, "font": "Liberation Serif", "color": "black"}, "encoding": {"x": {"datum": 2.1}, "y": {"datum": 21.75}, "text": {"value": "emission"}}}
 ]}
]
}
